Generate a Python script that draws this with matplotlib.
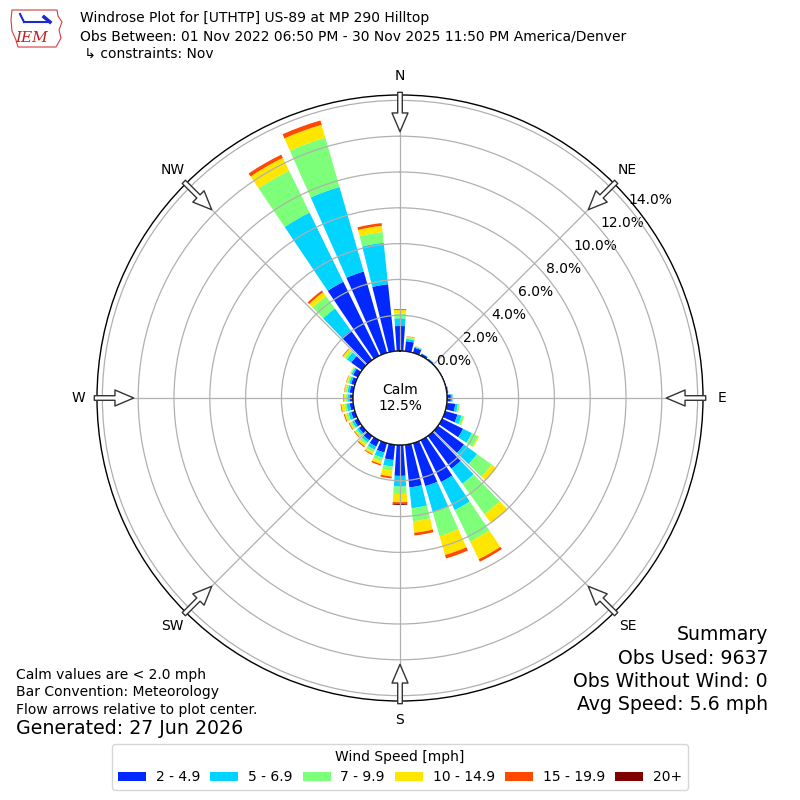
import numpy as np
import matplotlib
matplotlib.use("Agg")
import matplotlib.pyplot as plt
from matplotlib.patches import Circle, Rectangle, Polygon
from matplotlib.lines import Line2D

# ---------------- data ----------------
directions = list(range(0, 360, 10))
speed_labels = ["2 - 4.9", "5 - 6.9", "7 - 9.9", "10 - 14.9", "15 - 19.9", "20+"]
speed_colors = ["#0028ff", "#00d4ff", "#7dff7a", "#ffe600", "#ff4800", "#800000"]

# percent of observations per direction, for each speed bin
spd_2_5 = [1.40, 0.57, 0.30, 0.13, 0.08, 0.05, 0.04, 0.04, 0.08, 0.22, 0.48, 0.72,
           1.30, 1.80, 2.26, 2.60, 2.50, 2.40, 1.73, 0.86, 0.55, 0.40, 0.30, 0.22,
           0.22, 0.22, 0.20, 0.20, 0.20, 0.22, 0.30, 0.75, 2.05, 4.60, 4.73, 3.77]
spd_5_7 = [0.43, 0.13, 0.06, 0.02, 0.02, 0.00, 0.00, 0.00, 0.02, 0.10, 0.14, 0.24,
           0.55, 0.90, 1.04, 1.75, 1.50, 1.17, 0.60, 0.37, 0.30, 0.20, 0.15, 0.13,
           0.13, 0.16, 0.18, 0.12, 0.12, 0.11, 0.10, 0.30, 1.51, 4.30, 4.91, 2.33]
spd_7_10 = [0.27, 0.08, 0.03, 0.01, 0.00, 0.00, 0.00, 0.00, 0.00, 0.03, 0.10, 0.14,
            0.40, 1.00, 2.10, 1.95, 1.40, 0.73, 0.41, 0.22, 0.20, 0.15, 0.15, 0.10,
            0.10, 0.12, 0.12, 0.11, 0.10, 0.09, 0.06, 0.15, 0.84, 2.60, 2.86, 0.60]
spd_10_15 = [0.20, 0.05, 0.02, 0.00, 0.00, 0.00, 0.00, 0.00, 0.00, 0.00, 0.02, 0.02,
             0.05, 0.30, 0.60, 1.10, 1.10, 0.65, 0.46, 0.34, 0.17, 0.12, 0.12, 0.07,
             0.08, 0.10, 0.18, 0.09, 0.08, 0.08, 0.04, 0.12, 0.28, 0.80, 0.75, 0.35]
spd_15_20 = [0.05, 0.02, 0.00, 0.00, 0.00, 0.00, 0.00, 0.00, 0.00, 0.00, 0.00, 0.00,
             0.00, 0.02, 0.02, 0.15, 0.20, 0.15, 0.10, 0.11, 0.08, 0.05, 0.06, 0.04,
             0.04, 0.05, 0.04, 0.03, 0.02, 0.02, 0.00, 0.04, 0.12, 0.20, 0.25, 0.15]
spd_20p = [0.00, 0.00, 0.00, 0.00, 0.00, 0.00, 0.00, 0.00, 0.00, 0.00, 0.00, 0.00,
           0.00, 0.00, 0.00, 0.00, 0.00, 0.00, 0.05, 0.00, 0.00, 0.00, 0.00, 0.00,
           0.00, 0.00, 0.00, 0.00, 0.00, 0.00, 0.00, 0.00, 0.00, 0.00, 0.00, 0.00]
speed_bins = [spd_2_5, spd_5_7, spd_7_10, spd_10_15, spd_15_20, spd_20p]

calm_pct = 12.5
r_ticks = [0, 2, 4, 6, 8, 10, 12, 14]
compass = ["N", "NE", "E", "SE", "S", "SW", "W", "NW"]
compass_deg = [0, 45, 90, 135, 180, 225, 270, 315]

# ---------------- figure ----------------
fig = plt.figure(figsize=(8, 8), dpi=100)
ax = fig.add_axes([0.12125, 0.12375, 0.7575, 0.7575], projection="polar")
ax.set_theta_zero_location("N")
ax.set_theta_direction(-1)
RORIG = -2.62
RMAX = 14.3
ax.set_rorigin(RORIG)
ax.set_ylim(0, RMAX)

theta = np.deg2rad(directions)
width = np.deg2rad(10) * 0.8
base = np.zeros(len(directions))
for vals, col in zip(speed_bins, speed_colors):
    v = np.array(vals)
    ax.bar(theta, v, width=width, bottom=base, color=col, linewidth=0, zorder=1)
    base = base + v

ax.set_yticks(r_ticks)
ax.set_yticklabels([f"{t:.1f}%" for t in r_ticks], fontsize=10)
ax.set_rlabel_position(50)
ax.set_thetagrids(compass_deg, labels=compass, fontsize=10)
ax.tick_params(axis="x", pad=3)
ax.grid(True, color="#b0b0b0", linewidth=0.9)
ax.spines["polar"].set_linewidth(1.0)

# calm circle
frac = -RORIG / (RMAX - RORIG) * 0.5
ax.add_patch(Circle((0.5, 0.5), frac, transform=ax.transAxes, facecolor="white",
                    edgecolor="black", linewidth=1.0, zorder=4))
ax.text(0.5, 0.5, f"Calm\n{calm_pct:.1f}%", transform=ax.transAxes, ha="center",
        va="center", fontsize=10, zorder=5)

# flow arrows
r_tail = 14.45
r_tip = 12.25
for d in compass_deg:
    ax.annotate("", xy=(np.deg2rad(d), r_tip), xytext=(np.deg2rad(d), r_tail),
                arrowprops=dict(arrowstyle="simple,head_length=1.35,head_width=1.15,tail_width=0.33",
                                fc="white", ec="#333333", lw=1.0, shrinkA=0, shrinkB=0,
                                mutation_scale=10),
                annotation_clip=False, zorder=6)

# ---------------- titles ----------------
fig.text(80 / 800, 1 - 18 / 800, "Windrose Plot for [UTHTP] US-89 at MP 290 Hilltop",
         fontsize=10, va="center")
fig.text(80 / 800, 1 - 37 / 800,
         "Obs Between: 01 Nov 2022 06:50 PM - 30 Nov 2025 11:50 PM America/Denver",
         fontsize=10, va="center")
fig.text(80 / 800, 1 - 54 / 800, " \u21b3 constraints: Nov", fontsize=10, va="center")

# logo (approximate)
iowa = [(12, 10), (57, 10), (58, 16), (62, 22), (59, 30), (61, 38), (56, 47),
        (18, 47), (16, 40), (12, 31), (11, 20)]
fig.patches.append(Polygon([(x / 800, 1 - y / 800) for x, y in iowa], closed=True,
                           transform=fig.transFigure, facecolor="white",
                           edgecolor="#d04040", linewidth=0.8))
fig.lines.append(Line2D([24 / 800, 50 / 800], [1 - 22 / 800, 1 - 22 / 800],
                        transform=fig.transFigure, color="#1a2ad0", lw=1.5))
fig.lines.append(Line2D([20 / 800, 24 / 800], [1 - 14 / 800, 1 - 22 / 800],
                        transform=fig.transFigure, color="#1a2ad0", lw=1.5))
fig.lines.append(Line2D([44 / 800, 50 / 800], [1 - 17 / 800, 1 - 22 / 800],
                        transform=fig.transFigure, color="#1a2ad0", lw=2.5))
fig.text(32 / 800, 1 - 38 / 800, "IEM", fontsize=11, color="#c02020", style="italic",
         family="DejaVu Serif", ha="center", va="center")

# ---------------- notes ----------------
fig.text(16 / 800, 1 - 675 / 800, "Calm values are < 2.0 mph", fontsize=10, va="center")
fig.text(16 / 800, 1 - 692 / 800, "Bar Convention: Meteorology", fontsize=10, va="center")
fig.text(16 / 800, 1 - 710 / 800, "Flow arrows relative to plot center.", fontsize=10,
         va="center")
fig.text(16 / 800, 1 - 729 / 800, "Generated: 27 Jun 2026", fontsize=13.7, va="center")

summary = ["Summary", "Obs Used: 9637", "Obs Without Wind: 0", "Avg Speed: 5.6 mph"]
for i, s in enumerate(summary):
    fig.text(768 / 800, 1 - (635 + 23.3 * i) / 800, s, fontsize=13.6, ha="right",
             va="center")

# ---------------- legend ----------------
handles = [Rectangle((0, 0), 1, 1, facecolor=c, edgecolor="none") for c in speed_colors]
fig.legend(handles, speed_labels, loc="lower center", bbox_to_anchor=(0.5, 0.0125),
           ncol=6, title="Wind Speed [mph]", fontsize=10, title_fontsize=10,
           columnspacing=0.75, handletextpad=0.7, borderaxespad=0.0)

fig.savefig("out.png", dpi=100)
